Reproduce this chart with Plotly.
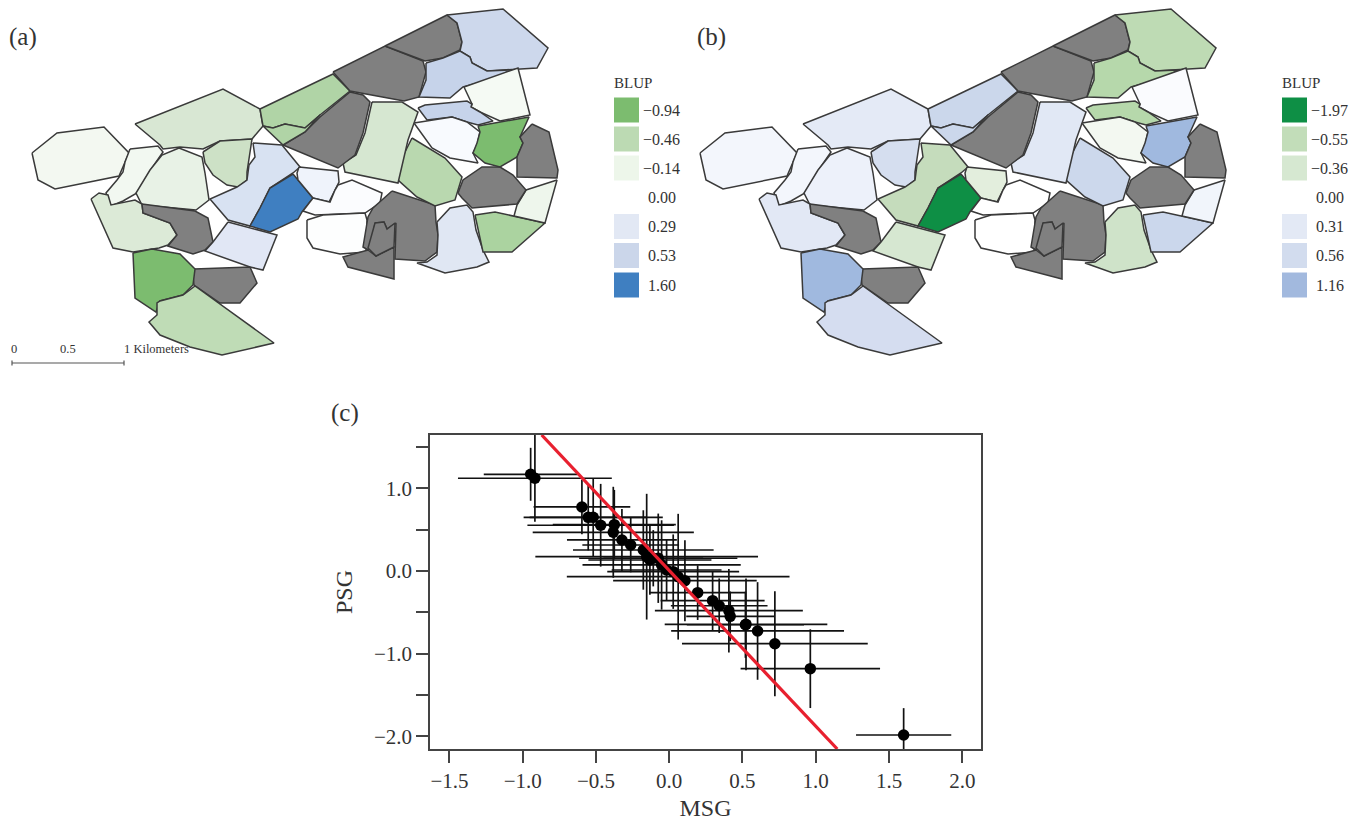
import plotly.graph_objects as go

# ---------- Panel (c) data ----------
MSG = [-0.946,-0.917,-0.596,-0.553,-0.519,-0.468,-0.375,-0.382,-0.323,-0.263,-0.177,-0.154,-0.132,-0.109,-0.075,
       -0.052,-0.018,0.027,0.061,0.107,0.194,0.296,0.341,0.407,0.416,0.524,0.520,0.603,0.721,0.963,1.600]
PSG = [1.169,1.121,0.774,0.649,0.649,0.553,0.560,0.468,0.375,0.314,0.254,0.173,0.133,0.154,0.154,
       0.073,0.012,-0.008,-0.069,-0.117,-0.262,-0.359,-0.420,-0.480,-0.548,-0.645,-0.650,-0.725,-0.879,-1.181,-1.983]
ERR = [0.32,0.525,0.33,0.40,0.475,0.50,0.42,0.55,0.375,0.33,0.48,0.76,0.42,0.34,0.54,
       0.54,0.375,0.45,0.76,0.49,0.33,0.355,0.33,0.505,0.30,0.555,0.40,0.59,0.634,0.476,0.325]
REF_X = [-0.871, 1.147]
REF_Y = [1.644, -2.152]
X_TICKS = [-1.5,-1.0,-0.5,0.0,0.5,1.0,1.5,2.0]
Y_TICKS = [1.5,1.0,0.5,0.0,-0.5,-1.0,-1.5,-2.0]
Y_LABELS = ["","1.0","","0.0","","\u22121.0","","\u22122.0"]

# ---------- Map regions (map units) ----------
REGIONS = [
 [(32,153),(57,133),(104,127),(129,153),(119,176),(55,189),(38,180)],
 [(135,124),(223,89),(260,109),(263,126),(252,139),(220,141),(203,149),(180,147),(163,149),(160,145)],
 [(130,149),(158,146),(163,152),(152,168),(137,193),(123,201),(111,206),(106,193),(117,180),(123,172),(125,162)],
 [(179,148),(202,157),(205,173),(209,200),(196,210),(142,205),(136,193),(150,170),(162,155)],
 [(203,152),(220,141),(252,139),(247,172),(247,180),(238,187),(227,185),(213,175),(205,163)],
 [(253,143),(265,144),(282,145),(300,167),(293,173),(270,188),(260,208),(250,226),(228,220),(210,199),(237,187),(247,180),(249,165),(255,157)],
 [(293,174),(313,198),(302,212),(298,219),(270,232),(250,226),(260,208),(270,188)],
 [(299,167),(338,171),(339,182),(329,202),(313,198),(298,180),(297,173)],
 [(338,185),(352,180),(382,193),(380,203),(365,213),(340,214),(315,215),(303,211),(313,198),(330,202),(335,190)],
 [(307,220),(323,215),(365,213),(367,220),(366,252),(340,254),(313,248),(307,238)],
 [(392,191),(435,205),(436,222),(438,235),(437,252),(425,261),(395,259),(396,223),(387,229),(384,222),(375,223),(372,243),(368,250),(363,247),(368,217),(373,208)],
 [(368,250),(376,256),(394,247),(394,279),(348,267),(343,257)],
 [(375,223),(384,222),(387,229),(395,223),(394,247),(376,256),(368,248)],
 [(437,222),(450,208),(467,205),(473,212),(476,230),(483,250),(489,262),(477,267),(445,273),(417,263),(427,262),(437,255),(438,235)],
 [(475,215),(495,212),(545,223),(512,252),(483,252),(480,238)],
 [(526,190),(557,180),(545,223),(514,216),(517,205)],
 [(458,193),(463,180),(482,167),(500,167),(513,175),(526,190),(517,204),(472,208),(462,198)],
 [(412,138),(445,158),(462,177),(455,200),(435,206),(417,197),(398,180),(396,170)],
 [(372,102),(402,102),(418,112),(408,140),(398,183),(345,172),(343,163),(356,155),(365,133)],
 [(350,92),(363,95),(370,102),(363,133),(355,155),(338,168),(283,145),(305,132),(320,117)],
 [(260,109),(333,74),(350,91),(320,115),(305,128),(285,124),(273,128),(263,126)],
 [(263,126),(273,128),(285,124),(305,128),(320,115),(305,132),(283,145)],
 [(333,72),(385,46),(423,61),(426,72),(419,97),(404,101),(350,91)],
 [(385,46),(447,15),(457,23),(462,42),(460,50),(443,58),(425,61)],
 [(447,15),(503,9),(548,48),(537,68),(487,71),(472,63),(470,57),(460,51),(462,42),(457,23)],
 [(426,63),(443,58),(460,51),(470,57),(472,63),(487,71),(510,70),(497,78),(463,87),(450,98),(419,97),(426,80)],
 [(464,87),(518,68),(530,115),(500,121),(480,112),(471,107),(472,104)],
 [(418,108),(425,105),(467,101),(472,104),(471,107),(480,112),(493,121),(478,125),(467,122),(452,117),(427,120)],
 [(414,123),(452,117),(467,122),(480,132),(477,145),(473,153),(478,163),(450,158),(432,148)],
 [(478,126),(529,117),(520,137),(523,143),(517,157),(500,167),(485,163),(473,153),(477,143),(480,132)],
 [(532,124),(549,132),(558,170),(557,178),(517,177),(517,157),(523,143),(520,137)],
 [(91,199),(99,193),(108,195),(111,205),(135,200),(142,204),(143,213),(170,223),(177,235),(168,245),(159,248),(133,252),(113,248)],
 [(142,204),(195,211),(208,218),(213,242),(205,250),(193,254),(168,246),(177,235),(170,223),(143,213)],
 [(228,222),(277,235),(263,270),(250,267),(205,251),(213,242)],
 [(194,269),(250,267),(257,283),(240,303),(220,303),(194,285),(193,277)],
 [(133,253),(152,249),(180,254),(195,269),(193,285),(183,295),(160,301),(156,312),(135,298)],
 [(195,286),(220,304),(274,343),(222,355),(190,347),(160,335),(149,322),(157,315),(157,303),(160,301),(183,295)],
]
G = "#808080"
FILL_A = ["#F3F8F1","#D8E7D3","#F2F8F1","#E8F2E6","#CDE1C6","#D8E2F2","#3F7FC1","#EFF3FB","#FBFCFE","#FDFEFE",G,G,G,
          "#E0E7F3","#ABD3A0","#EEF6EC",G,"#B9D8AF","#D6E7D1",G,"#B0D4A6","#B0D4A6",G,G,"#CDD8EC","#C6D3EA","#F5FAF4",
          "#C6D3EA","#F8FAFE","#7CBC6F",G,"#DCEAD7",G,"#E1E7F5",G,"#7CBC6F","#BFDCB6"]
FILL_B = ["#F3F6FC","#E4EAF6","#F3F6FC","#EDF1FA","#D5DEEF","#C5DCBC","#0E8F45","#E3EEDD","#FFFFFF","#FFFFFF",G,G,G,
          "#CFE3C9","#CBD7EC","#F1F5FB",G,"#CCD8EC","#E1E8F5",G,"#CBD7EB","#CBD7EB",G,G,"#BEDBB4","#B6D8AB","#FAFBFE",
          "#B6D8AB","#F3F8F1","#A0B9DF",G,"#E2E8F5",G,"#D6E7D1",G,"#A0B9DF","#D5DDF0"]

LEG_LABELS_A = ["\u22120.94","\u22120.46","\u22120.14","0.00","0.29","0.53","1.60"]
LEG_LABELS_B = ["\u22121.97","\u22120.55","\u22120.36","0.00","0.31","0.56","1.16"]
LEG_COLORS_A = ["#7CBC6F","#BCDAB3","#EDF6EA","#FFFFFF","#E2E8F4","#CBD6EA","#3F7FC1"]
LEG_COLORS_B = ["#0E8F45","#C2DDB9","#D6E8D1","#FFFFFF","#E3E9F5","#D2DCEE","#A2B9DE"]
LEG_ROWS = [110,139,168,197.5,226.5,255.5,285]

SERIF = "Liberation Serif"
INK = "#333333"
W, H = 1366, 821
fig = go.Figure()

def add_map(fills, xa, ya):
    for poly, col in zip(REGIONS, fills):
        xs = [p[0] for p in poly] + [poly[0][0]]
        ys = [p[1] for p in poly] + [poly[0][1]]
        fig.add_trace(go.Scatter(x=xs, y=ys, mode="lines", fill="toself", fillcolor=col,
                                 line=dict(color="#3a3a3a", width=1.5), xaxis=xa, yaxis=ya,
                                 hoverinfo="skip", showlegend=False))

add_map(FILL_A, "x2", "y2")
add_map(FILL_B, "x3", "y3")

# Panel (c)
fig.add_trace(go.Scatter(x=MSG, y=PSG, mode="markers",
                         marker=dict(color="black", size=11.5),
                         error_x=dict(type="data", array=ERR, color="#111", thickness=1.7, width=0),
                         error_y=dict(type="data", array=ERR, color="#111", thickness=1.7, width=0),
                         xaxis="x", yaxis="y", showlegend=False, cliponaxis=True))
fig.add_trace(go.Scatter(x=REF_X, y=REF_Y, mode="lines", line=dict(color="#E8202F", width=3.2),
                         xaxis="x", yaxis="y", showlegend=False))

# Legends of maps
def add_legend(labels, colors, xa, ya):
    fig.add_trace(go.Scatter(x=[626.5]*len(LEG_ROWS), y=LEG_ROWS, mode="markers",
                             marker=dict(symbol="square", size=25, color=colors, line=dict(width=0)),
                             xaxis=xa, yaxis=ya, showlegend=False, hoverinfo="skip"))
    fig.add_annotation(x=611.5, y=83, xref=xa, yref=ya, text="BLUP", showarrow=False, xanchor="left",
                       font=dict(family=SERIF, size=15, color=INK))
    for lab, row in zip(labels, LEG_ROWS):
        x = 640.5 if lab.startswith("\u2212") else 646
        fig.add_annotation(x=x, y=row, xref=xa, yref=ya, text=lab, showarrow=False, xanchor="left",
                           font=dict(family=SERIF, size=16, color=INK))

add_legend(LEG_LABELS_A, LEG_COLORS_A, "x2", "y2")
add_legend(LEG_LABELS_B, LEG_COLORS_B, "x3", "y3")

# Scale bar
fig.add_trace(go.Scatter(x=[12,12,None,12,124,None,124,124], y=[360.5,365.5,None,363,363,None,360.5,365.5],
                         mode="lines", line=dict(color="#555", width=1.2), xaxis="x2", yaxis="y2",
                         showlegend=False, hoverinfo="skip"))
for txt, x in [("0",13.5),("0.5",68),("1 Kilometers",156.5)]:
    fig.add_annotation(x=x, y=349, xref="x2", yref="y2", text=txt, showarrow=False,
                       font=dict(family=SERIF, size=12.5, color=INK))

# Panel tags
for txt, x, y in [("(a)",23,37),("(b)",711.5,37),("(c)",344.5,413)]:
    fig.add_annotation(x=x/W, y=1-y/H, xref="paper", yref="paper", text=txt, showarrow=False,
                       xanchor="center", yanchor="middle",
                       font=dict(family=SERIF, size=25, color=INK))

hidden = dict(visible=False, showgrid=False, zeroline=False)
fig.update_layout(
    width=W, height=H, margin=dict(l=0,r=0,t=0,b=0), paper_bgcolor="white", plot_bgcolor="white",
    showlegend=False, font=dict(family=SERIF, color=INK),
    xaxis=dict(domain=[430/W,981/W], range=[-1.633,2.128], tickmode="array", tickvals=X_TICKS,
               tickformat=".1f", ticks="outside", ticklen=12, tickwidth=1.5, tickcolor="#444",
               showline=True, linecolor="#444", linewidth=1.5, mirror=True, showgrid=False, zeroline=False,
               tickfont=dict(family=SERIF, size=21, color=INK),
               title=dict(text="MSG", font=dict(family=SERIF, size=24, color=INK), standoff=8)),
    yaxis=dict(domain=[1-749/H,1-435/H], range=[-2.152,1.644], tickmode="array", tickvals=Y_TICKS,
               ticktext=Y_LABELS, ticks="outside", ticklen=12, tickwidth=1.5, tickcolor="#444",
               showline=True, linecolor="#444", linewidth=1.5, mirror=True, showgrid=False, zeroline=False,
               tickfont=dict(family=SERIF, size=21, color=INK),
               title=dict(text="PSG", font=dict(family=SERIF, size=24, color=INK), standoff=15)),
    xaxis2=dict(domain=[0,683/W], range=[0,683], **hidden),
    yaxis2=dict(domain=[1-390/H,1], range=[390,0], **hidden),
    xaxis3=dict(domain=[668/W,1], range=[0,698], **hidden),
    yaxis3=dict(domain=[1-390/H,1], range=[390,0], **hidden),
)
fig.write_html("out.html", config={"displayModeBar": False},
               post_script="document.body.style.margin='0';document.body.style.overflow='hidden';")
